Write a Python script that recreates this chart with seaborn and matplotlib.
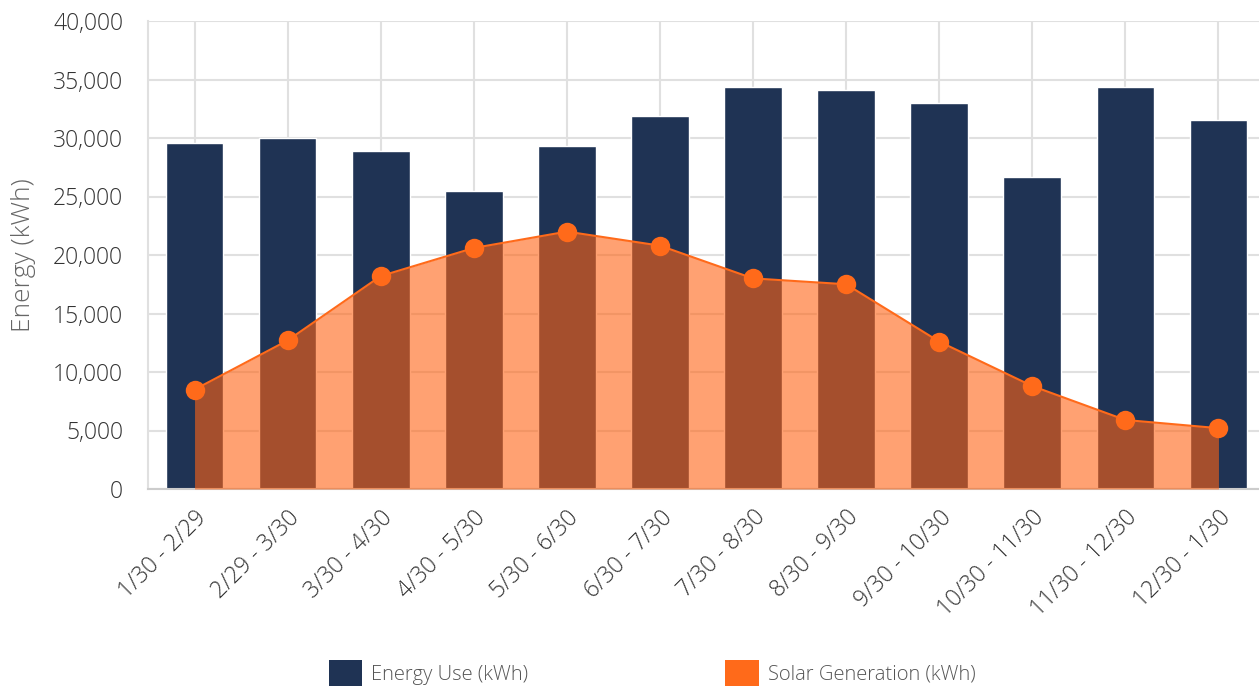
import matplotlib
matplotlib.use("Agg")
import matplotlib.pyplot as plt
import seaborn as sns
import pandas as pd
import numpy as np
from matplotlib.patches import Patch
from matplotlib.ticker import FuncFormatter

periods = ["1/30 - 2/29", "2/29 - 3/30", "3/30 - 4/30", "4/30 - 5/30", "5/30 - 6/30",
           "6/30 - 7/30", "7/30 - 8/30", "8/30 - 9/30", "9/30 - 10/30", "10/30 - 11/30",
           "11/30 - 12/30", "12/30 - 1/30"]
energy_use = [29600, 30000, 28900, 25500, 29300, 31900, 34400, 34100, 33000, 26700, 34400, 31500]
solar_gen = [8500, 12700, 18200, 20600, 22000, 20800, 18000, 17500, 12600, 8800, 5900, 5200]

df = pd.DataFrame({"period": periods, "use": energy_use, "solar": solar_gen})
df["pos"] = np.arange(len(df))

sns.set_theme(style="white")
plt.rcParams["font.family"] = ["Open Sans", "DejaVu Sans"]

NAVY = "#1F3354"
ORANGE = "#FF6A1A"
GRID = "#E0E0E0"
AXIS = "#CCCCCC"
TEXT = "#333333"

fig = plt.figure(figsize=(12.59, 6.86), dpi=100)
ax = fig.add_axes([148 / 1259, 197 / 686, 1117 / 1259, 468 / 686])

sns.barplot(data=df, x="period", y="use", color=NAVY, width=0.62, ax=ax,
            saturation=1, zorder=2)
ax.fill_between(df["pos"], 0, df["solar"], color="#FF6314", alpha=0.6, lw=0, zorder=3)
sns.lineplot(data=df, x="pos", y="solar", color=ORANGE, lw=1.5, marker="o",
             markersize=14, markeredgewidth=0, ax=ax, zorder=4)

ax.set_xlim(-0.5, len(df) - 0.5)
ax.set_ylim(0, 40000)
ax.set_yticks(np.arange(0, 40001, 5000))
ax.yaxis.set_major_formatter(FuncFormatter(lambda v, p: f"{int(v):,}"))
ax.set_xticks(df["pos"])
ax.set_xticklabels(periods, rotation=45, ha="right", rotation_mode="anchor")

ax.grid(True, axis="both", color=GRID, lw=1.5, zorder=0)
ax.set_axisbelow(True)
for s in ["top", "right"]:
    ax.spines[s].set_visible(False)
ax.spines["left"].set_color(GRID)
ax.spines["left"].set_linewidth(1.5)
ax.spines["bottom"].set_color(AXIS)
ax.spines["bottom"].set_linewidth(1.5)

ax.tick_params(axis="y", length=8, width=1.5, color=GRID, pad=10, labelsize=16.5, labelcolor=TEXT)
ax.tick_params(axis="x", length=8, width=1.5, color=AXIS, pad=4, labelsize=16.5, labelcolor=TEXT)
for t in ax.get_xticklabels() + ax.get_yticklabels():
    t.set_fontweight("light")

ax.set_xlabel("")
ax.set_ylabel("Energy (kWh)", fontsize=19, color="#666666", labelpad=12, fontweight="light")

handles = [Patch(facecolor=NAVY, edgecolor="none", label="Energy Use (kWh)"),
           Patch(facecolor=ORANGE, edgecolor="none", label="Solar Generation (kWh)")]
leg = fig.legend(handles=handles, loc="center", bbox_to_anchor=(652 / 1259, 13 / 686),
                 ncol=2, frameon=False, fontsize=14.5, handlelength=1.65, handleheight=1.65,
                 handletextpad=0.45, columnspacing=9.8)
for t in leg.get_texts():
    t.set_color("#555555")
    t.set_fontweight("light")

fig.savefig("out.png", dpi=100)
